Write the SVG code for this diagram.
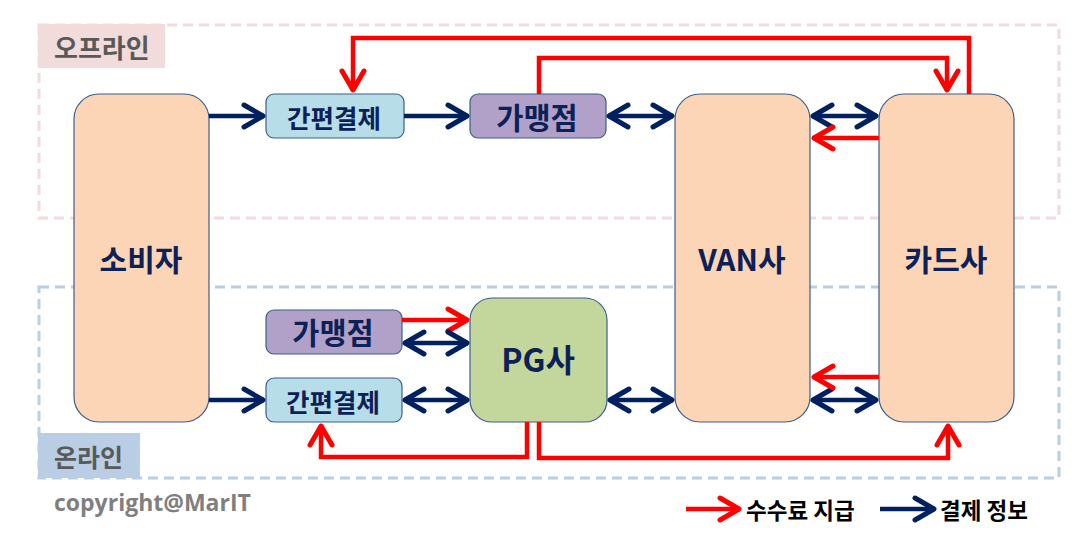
<svg xmlns="http://www.w3.org/2000/svg" width="1087" height="537" viewBox="0 0 1087 537">
<defs>
<style>
.node{stroke:#3b5e8c;stroke-width:1.2}
.big{fill:#fbd5b5}
.pay{fill:#b7dde8}
.shop{fill:#b1a0c7}
.pg{fill:#c3d69b}
.t{font-family:"Noto Sans CJK KR","Noto Sans",sans-serif;font-weight:bold;fill:#0b2157;text-anchor:middle;dominant-baseline:central}
.navy{stroke:#002060;stroke-width:4.5;fill:none}
.red{stroke:#ff0000;stroke-width:4.5;fill:none}
.grp{font-family:"Noto Sans CJK KR","Noto Sans",sans-serif;font-weight:bold;fill:#595959}
.leg{font-family:"Noto Sans CJK KR","Noto Sans",sans-serif;font-weight:bold;fill:#000;font-size:22.5px}
</style>
<marker id="an" viewBox="-24 -16 28 32" markerWidth="28" markerHeight="32" refX="1" refY="0" markerUnits="userSpaceOnUse" orient="auto-start-reverse">
<path d="M-19,-11 L0,0 L-19,11" fill="none" stroke="#002060" stroke-width="5" stroke-linecap="round" stroke-linejoin="round"/>
</marker>
<marker id="ar" viewBox="-24 -16 28 32" markerWidth="28" markerHeight="32" refX="1" refY="0" markerUnits="userSpaceOnUse" orient="auto-start-reverse">
<path d="M-19,-11 L0,0 L-19,11" fill="none" stroke="#ff0000" stroke-width="5" stroke-linecap="round" stroke-linejoin="round"/>
</marker>
</defs>
<rect width="1087" height="537" fill="#ffffff"/>
<g id="offline">
<rect x="39" y="25" width="1020" height="193" fill="none" stroke="#f2dcdb" stroke-width="3" stroke-dasharray="10,6"/>
<rect x="38" y="24" width="127" height="44" fill="#f2dcdb"/>
<text x="54" y="46" class="grp" font-size="26" dominant-baseline="central">오프라인</text>
</g>
<g id="online">
<rect x="39" y="287" width="1020" height="191" fill="none" stroke="#b9cde5" stroke-width="3" stroke-dasharray="10,6"/>
<rect x="38" y="433" width="102" height="45" fill="#b9cde5"/>
<text x="54" y="456" class="grp" font-size="25" dominant-baseline="central">온라인</text>
</g>
<g id="consumer"><rect class="node big" x="74" y="94" width="135" height="328" rx="25"/><text class="t" x="141" y="258" font-size="30">소비자</text></g>
<g id="easypay-off"><rect class="node pay" x="266" y="94" width="138" height="44" rx="8"/><text class="t" x="334" y="116" font-size="25.5">간편결제</text></g>
<g id="shop-off"><rect class="node shop" x="470" y="94" width="136" height="44" rx="8"/><text class="t" x="537" y="116" font-size="29.5">가맹점</text></g>
<g id="van"><rect class="node big" x="675" y="94" width="135" height="328" rx="25"/><text class="t" x="742" y="258" font-size="30">VAN사</text></g>
<g id="card"><rect class="node big" x="879" y="94" width="135" height="328" rx="25"/><text class="t" x="946" y="258" font-size="30">카드사</text></g>
<g id="shop-on"><rect class="node shop" x="266" y="310" width="136" height="44" rx="8"/><text class="t" x="333" y="331" font-size="29.5">가맹점</text></g>
<g id="easypay-on"><rect class="node pay" x="266" y="378" width="136" height="44" rx="8"/><text class="t" x="333" y="400" font-size="25.5">간편결제</text></g>
<g id="pg"><rect class="node pg" x="470" y="298" width="137" height="124" rx="22"/><text class="t" x="538" y="358" font-size="32">PG사</text></g>
<g id="connectors">
<line class="navy" x1="209" y1="116" x2="264" y2="116" marker-end="url(#an)"/>
<line class="navy" x1="404" y1="116" x2="468" y2="116" marker-end="url(#an)"/>
<line class="navy" x1="608" y1="116" x2="673" y2="116" marker-start="url(#an)" marker-end="url(#an)"/>
<line class="navy" x1="812" y1="116" x2="877" y2="116" marker-start="url(#an)" marker-end="url(#an)"/>
<line class="red" x1="879" y1="138" x2="813" y2="138" marker-end="url(#ar)"/>
<polyline class="red" points="969,94 969,38 353,38 353,91" marker-end="url(#ar)"/>
<polyline class="red" points="539,94 539,58 947,58 947,91" marker-end="url(#ar)"/>
<line class="navy" x1="209" y1="400" x2="264" y2="400" marker-end="url(#an)"/>
<line class="red" x1="402" y1="320" x2="468" y2="320" marker-end="url(#ar)"/>
<line class="navy" x1="404" y1="343" x2="468" y2="343" marker-start="url(#an)" marker-end="url(#an)"/>
<line class="navy" x1="404" y1="400" x2="468" y2="400" marker-start="url(#an)" marker-end="url(#an)"/>
<line class="navy" x1="609" y1="400" x2="673" y2="400" marker-start="url(#an)" marker-end="url(#an)"/>
<line class="navy" x1="812" y1="400" x2="877" y2="400" marker-start="url(#an)" marker-end="url(#an)"/>
<line class="red" x1="879" y1="377" x2="813" y2="377" marker-end="url(#ar)"/>
<polyline class="red" points="527,422 527,457 321,457 321,425" marker-end="url(#ar)"/>
<polyline class="red" points="539,422 539,458 948,458 948,425" marker-end="url(#ar)"/>
</g>
<g id="legend">
<line class="red" x1="686" y1="509" x2="740" y2="509" marker-end="url(#ar)"/>
<text x="746" y="509" class="leg" dominant-baseline="central">수수료 지급</text>
<line class="navy" x1="880" y1="509" x2="935" y2="509" marker-end="url(#an)"/>
<text x="940" y="509" class="leg" dominant-baseline="central">결제 정보</text>
</g>
<text x="54" y="502" font-family="'Open Sans','Noto Sans',sans-serif" font-weight="bold" font-size="23" fill="#7f7f7f" dominant-baseline="central">copyright@MarIT</text>
</svg>
